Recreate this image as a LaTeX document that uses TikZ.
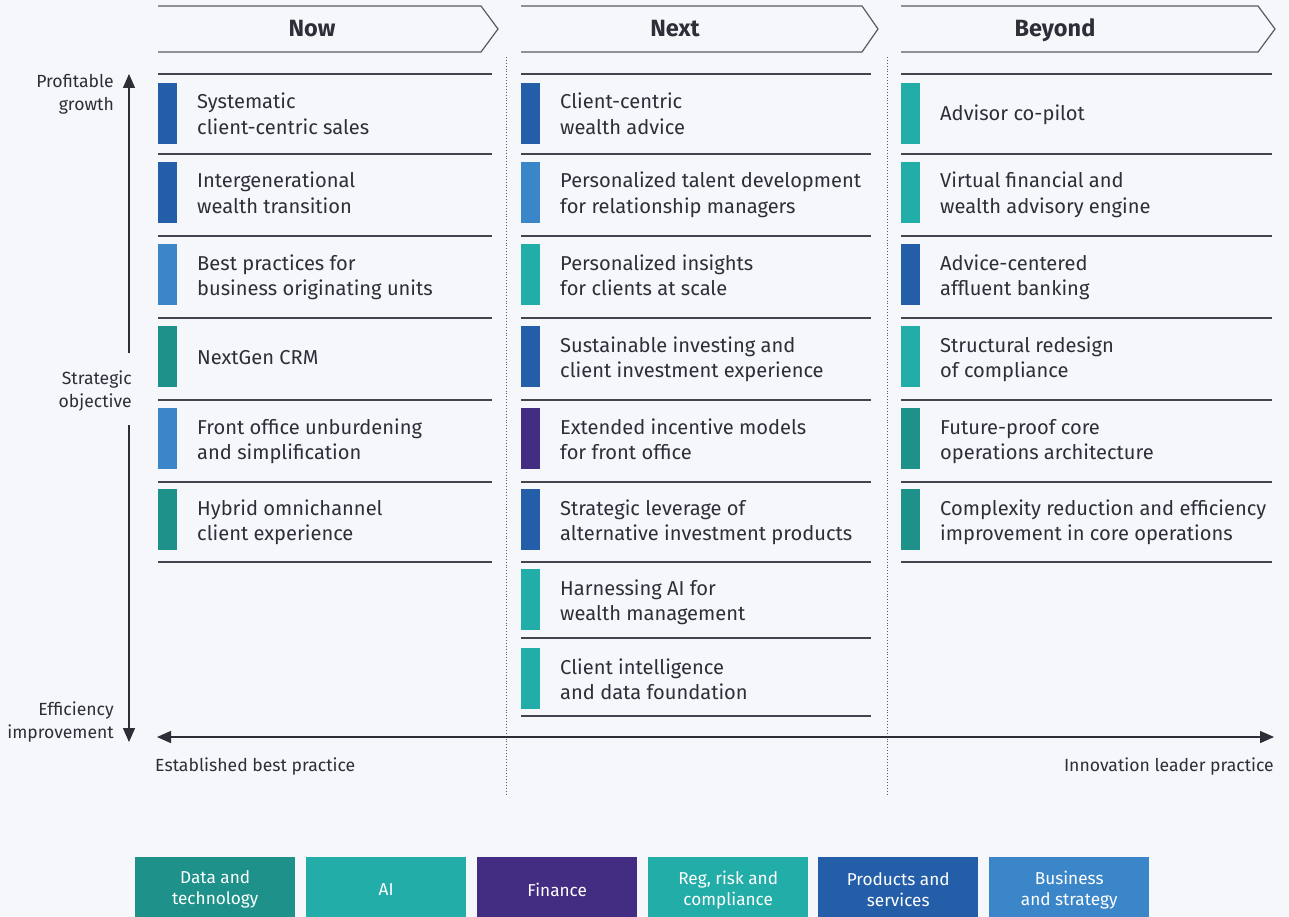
\documentclass[tikz,border=0pt]{standalone}
\usepackage{fontspec}
\setmainfont{Fira Sans}
\usetikzlibrary{arrows.meta}
\definecolor{bg}{HTML}{F6F7FB}
\definecolor{txt}{HTML}{2E2E38}
\definecolor{rule}{HTML}{44444E}
\definecolor{hdr}{HTML}{5A5A64}
\definecolor{cdt}{HTML}{1E918A}
\definecolor{cai}{HTML}{22ADA8}
\definecolor{cfin}{HTML}{422D82}
\definecolor{creg}{HTML}{22ADA8}
\definecolor{cprod}{HTML}{245EA8}
\definecolor{cbus}{HTML}{3B86C8}
\newcommand\twoitem[6]{% name, barx, textx, center, color, text
  \node[bar,fill=#5] (#1bar) at (#2+9.5,#4) {};
  \node[itemtxt,anchor=base west] (#1) at (#3,#4+21) {#6};}
\newcommand\oneitem[6]{%
  \node[bar,fill=#5] (#1bar) at (#2+9.5,#4) {};
  \node[itemtxt,anchor=base west] (#1) at (#3,#4+7.5) {#6};}
\begin{document}
\begin{tikzpicture}[x=1pt,y=-1pt,
  bar/.style={minimum width=19pt,minimum height=61pt,inner sep=0pt,draw=none},
  itemtxt/.style={align=left,text=txt,inner sep=0pt,font=\fontsize{20.1}{25.5}\selectfont},
  rowline/.style={draw=rule,line width=1.6pt},
  hdrshape/.style={draw=hdr,line width=1.2pt,line join=miter},
  hdrtxt/.style={anchor=base,text=txt,font=\fontsize{23.5}{25}\selectfont\bfseries,inner sep=0pt},
  axis/.style={draw=txt,line width=1.4pt},
  axlbl/.style={text=txt,align=right,inner sep=0pt,font=\fontsize{17.6}{23}\selectfont},
  sep/.style={draw=hdr,line width=0.9pt,dotted},
  legend/.style={anchor=north west,minimum width=160pt,minimum height=65pt,inner sep=0pt,text=white,align=center,font=\fontsize{17.2}{21}\selectfont}
]
\fill[bg] (0,0) rectangle (1289,917);
\useasboundingbox (0,0) rectangle (1289,917);

% headers
\draw[hdrshape] (158,6) -- (481,6) -- (498,29) -- (481,52) -- (158,52);
\draw[hdrshape] (521,6) -- (862,6) -- (878,29) -- (862,52) -- (521,52);
\draw[hdrshape] (901,6) -- (1258,6) -- (1275,29) -- (1258,52) -- (901,52);
\node[hdrtxt] (hnow) at (312,37) {Now};
\node[hdrtxt] (hnext) at (675,37) {Next};
\node[hdrtxt] (hbeyond) at (1055,37) {Beyond};

% dotted separators
\coordinate (s1t) at (506,57); \coordinate (s1b) at (506,795);
\coordinate (s2t) at (887,57); \coordinate (s2b) at (887,795);
\draw[sep] (s1t) -- (s1b);
\draw[sep] (s2t) -- (s2b);

% row lines
\foreach \y in {74,154,236,318,400,482,562} {
  \draw[rowline] (158,\y) -- (492,\y);
  \draw[rowline] (901,\y) -- (1272,\y);
}
\foreach \y in {74,154,236,318,400,482,562,638,716} {
  \draw[rowline] (521,\y) -- (871,\y);
}

% Now column
\twoitem{n1}{158}{197}{113.5}{cprod}{Systematic\\client-centric sales}
\twoitem{n2}{158}{197}{192.5}{cprod}{Intergenerational\\wealth transition}
\twoitem{n3}{158}{197}{274.5}{cbus}{Best practices for\\business originating units}
\oneitem{n4}{158}{197}{356.5}{cdt}{NextGen CRM}
\twoitem{n5}{158}{197}{438.5}{cbus}{Front office unburdening\\and simplification}
\twoitem{n6}{158}{197}{519.5}{cdt}{Hybrid omnichannel\\client experience}

% Next column
\twoitem{x1}{521}{560}{113.5}{cprod}{Client-centric\\wealth advice}
\twoitem{x2}{521}{560}{192.5}{cbus}{Personalized talent development\\for relationship managers}
\twoitem{x3}{521}{560}{274.5}{cai}{Personalized insights\\for clients at scale}
\twoitem{x4}{521}{560}{356.5}{cprod}{Sustainable investing and\\client investment experience}
\twoitem{x5}{521}{560}{438.5}{cfin}{Extended incentive models\\for front office}
\twoitem{x6}{521}{560}{519.5}{cprod}{Strategic leverage of\\alternative investment products}
\twoitem{x7}{521}{560}{599.5}{cai}{Harnessing AI for\\wealth management}
\twoitem{x8}{521}{560}{678.5}{cai}{Client intelligence\\and data foundation}

% Beyond column
\oneitem{b1}{901}{940}{113.5}{cai}{Advisor co-pilot}
\twoitem{b2}{901}{940}{192.5}{cai}{Virtual financial and\\wealth advisory engine}
\twoitem{b3}{901}{940}{274.5}{cprod}{Advice-centered\\affluent banking}
\twoitem{b4}{901}{940}{356.5}{creg}{Structural redesign\\of compliance}
\twoitem{b5}{901}{940}{438.5}{cdt}{Future-proof core\\operations architecture}
\twoitem{b6}{901}{940}{519.5}{cdt}{Complexity reduction and efficiency\\improvement in core operations}

% vertical axis
\coordinate (vtop) at (129,74);
\coordinate (vgap1) at (129,353);
\coordinate (vgap2) at (129,425);
\coordinate (vbot) at (129,742);
\draw[axis,-{Triangle[width=12pt,length=14pt]}] (vgap1) -- (vtop);
\draw[axis,-{Triangle[width=12pt,length=14pt]}] (vgap2) -- (vbot);
\node[axlbl,anchor=east] (lpg) at (114,94.5) {Profitable\\growth};
\node[axlbl,anchor=east] (lso) at (132,391) {Strategic\\objective};
\node[axlbl,anchor=east] (lei) at (114,722.5) {Efficiency\\improvement};

% horizontal axis
\coordinate (hl) at (157,737);
\coordinate (hr) at (1274,737);
\draw[axis,{Triangle[width=12pt,length=14pt]}-{Triangle[width=12pt,length=14pt]}] (hl) -- (hr);
\node[axlbl,anchor=west] (lest) at (155,767) {Established best practice};
\node[axlbl,anchor=east] (linn) at (1274,767) {Innovation leader practice};

% legend
\node[legend,fill=cdt] (l1) at (135,857) {Data and\\technology};
\node[legend,fill=cai] (l2) at (306,857) {AI};
\node[legend,fill=cfin] (l3) at (477,857) {Finance};
\node[legend,fill=creg] (l4) at (648,857) {Reg, risk and\\compliance};
\node[legend,fill=cprod] (l5) at (818,857) {Products and\\services};
\node[legend,fill=cbus] (l6) at (989,857) {Business\\and strategy};
\end{tikzpicture}
\end{document}
